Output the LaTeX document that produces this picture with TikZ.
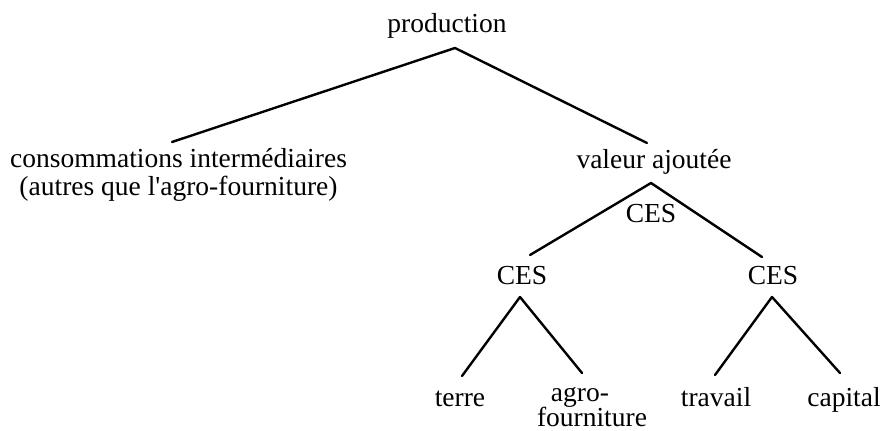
\documentclass[tikz,border=0pt]{standalone}
\usepackage{fontspec}
\newfontfamily\lib{Liberation Serif}
\begin{document}
\begin{tikzpicture}[x=1pt,y=-1pt,
  lbl/.style={inner sep=0pt,anchor=base,font=\lib\fontsize{27.5}{28}\selectfont},
  edge/.style={line width=2.4pt,line cap=round,line join=round}]
\useasboundingbox (0,0) rectangle (884,431);
\node[lbl] (prod) at (447,32) {production};
\node[lbl] (cons) at (178.5,167) {consommations intermédiaires};
\node[lbl] (cons2) at (178.5,195) {(autres que l'agro-fourniture)};
\node[lbl] (va) at (654,168) {valeur ajoutée};
\node[lbl] (cesT) at (651,222) {CES};
\node[lbl] (cesL) at (522,284) {CES};
\node[lbl] (cesR) at (773,284) {CES};
\node[lbl] (terre) at (460,406) {terre};
\node[lbl] (agro) at (580,401) {agro-};
\node[lbl] (four) at (592,426) {fourniture};
\node[lbl] (trav) at (716,406) {travail};
\node[lbl] (cap) at (844,406) {capital};
% connector end points
\coordinate (p0) at (455,48);
\coordinate (c0) at (172,142);
\coordinate (v0) at (647,143);
\coordinate (v1) at (651,183);
\coordinate (l0) at (530,255);
\coordinate (r0) at (762,257);
\coordinate (l1) at (520,297);
\coordinate (t0) at (462,376);
\coordinate (a0) at (582,373);
\coordinate (r1) at (772,297);
\coordinate (w0) at (715,375);
\coordinate (k0) at (840,373);
\draw[edge] (c0) -- (p0) -- (v0);
\draw[edge] (l0) -- (v1) -- (r0);
\draw[edge] (t0) -- (l1) -- (a0);
\draw[edge] (w0) -- (r1) -- (k0);
\end{tikzpicture}
\end{document}
